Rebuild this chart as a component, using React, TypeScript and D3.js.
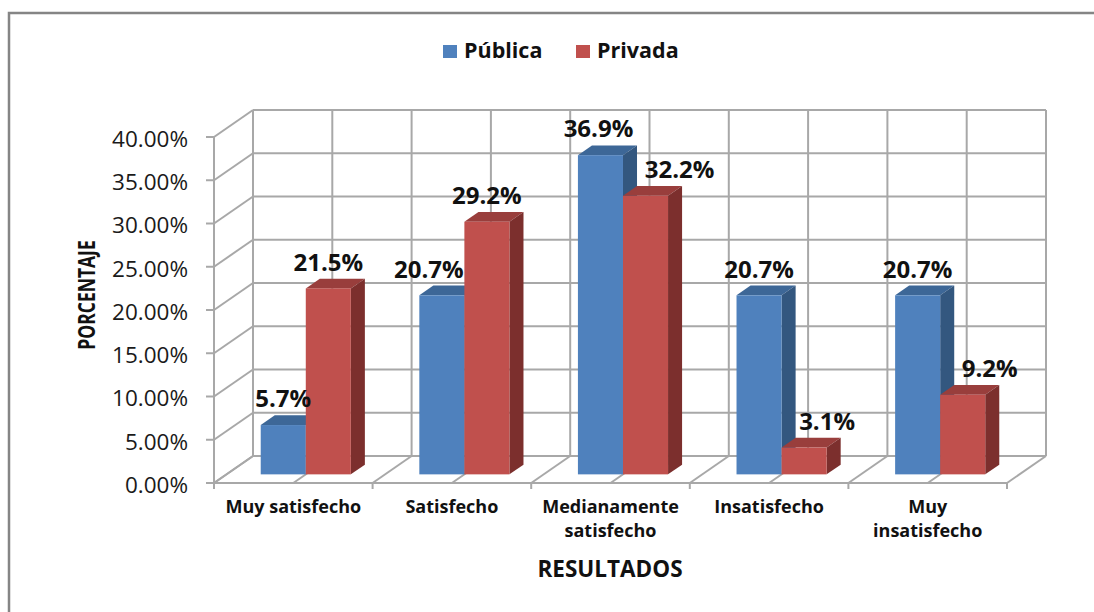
import React, { useRef, useEffect } from "react";
import * as d3 from "d3";

const categories = [
  "Muy satisfecho",
  "Satisfecho",
  "Medianamente\nsatisfecho",
  "Insatisfecho",
  "Muy\ninsatisfecho",
];
const seriesNames = ["Pública", "Privada"];
const publica = [5.7, 20.7, 36.9, 20.7, 20.7];
const privada = [21.5, 29.2, 32.2, 3.1, 9.2];
const yTicks = [0, 5, 10, 15, 20, 25, 30, 35, 40];

const WIDTH = 1094;
const HEIGHT = 612;
const FONT = "'Open Sans', 'Noto Sans', sans-serif";

// colores de cada serie: frente, tapa, lado
const faceColors = [
  { front: "#4f81bd", top: "#3d6797", side: "#33577f" },
  { front: "#c0504d", top: "#993e3c", side: "#7c2f2d" },
];

// pequeños desplazamientos de etiquetas movidas a mano en el original
const labelNudge: Record<string, number> = {
  "0-1": -13,
  "0-2": -2,
  "1-2": 34,
  "1-3": 23,
  "1-4": 27,
};

const App = () => {
  const svgRef = useRef<SVGSVGElement | null>(null);

  useEffect(() => {
    const svg = d3.select(svgRef.current);
    svg.selectAll("*").remove();

    const values = [publica, privada];
    const x0 = 214;
    const x1 = 1007;
    const depth = { dx: 39, dy: -27 };
    const barDepth0 = 0.32; // profundidad de la cara frontal de la barra
    const barDepth = 0.36; // grosor de la barra en profundidad

    const y = d3.scaleLinear().domain([0, 40]).range([483, 137]);
    const xCat = d3.scaleBand<string>().domain(categories).range([x0, x1]).padding(0);
    const xSer = d3
      .scaleBand<string>()
      .domain(seriesNames)
      .range([0, xCat.bandwidth()])
      .paddingInner(0)
      .paddingOuter(0.76);

    const grid = "#a8a8a8";

    // marco exterior
    svg
      .append("rect")
      .attr("x", 9)
      .attr("y", 13)
      .attr("width", WIDTH + 20)
      .attr("height", HEIGHT + 20)
      .attr("fill", "white")
      .attr("stroke", "#858585")
      .attr("stroke-width", 2.5);

    const walls = svg.append("g").attr("stroke", grid).attr("stroke-width", 2).attr("fill", "none");
    const line = (ax: number, ay: number, bx: number, by: number) =>
      walls.append("line").attr("x1", ax).attr("y1", ay).attr("x2", bx).attr("y2", by);

    // pared lateral y pared del fondo
    yTicks.forEach((t) => {
      line(x0, y(t), x0 + depth.dx, y(t) + depth.dy);
      line(x0 + depth.dx, y(t) + depth.dy, x1 + depth.dx, y(t) + depth.dy);
    });
    const half = d3.range(0, categories.length * 2 + 1).map((i) => x0 + (i * xCat.bandwidth()) / 2);
    half.forEach((xx) => {
      line(xx + depth.dx, y(40) + depth.dy, xx + depth.dx, y(0) + depth.dy);
      line(xx, y(0), xx + depth.dx, y(0) + depth.dy);
    });
    line(x0, y(0), x1, y(0));
    line(x0, y(40), x0, y(0));

    // marcas de los ejes
    yTicks.forEach((t) => line(x0 - 8, y(t), x0, y(t)));
    d3.range(0, categories.length + 1).forEach((i) => {
      const xx = x0 + i * xCat.bandwidth();
      line(xx, y(0), xx, y(0) + 6);
    });

    // etiquetas del eje Y
    svg
      .append("g")
      .selectAll("text")
      .data(yTicks)
      .enter()
      .append("text")
      .attr("x", 188)
      .attr("y", (d) => y(d) + 2)
      .attr("dy", "0.35em")
      .attr("text-anchor", "end")
      .style("font-family", FONT)
      .style("font-size", "22.5px")
      .style("fill", "#1a1a1a")
      .text((d) => d3.format(".2f")(d) + "%");

    // barras
    const bars = svg.append("g");
    const labels: { x: number; y: number; text: string }[] = [];
    categories.forEach((cat, i) => {
      seriesNames.forEach((s, j) => {
        const v = values[j][i];
        const w = xSer.bandwidth();
        const xl = (xCat(cat) ?? 0) + (xSer(s) ?? 0) + barDepth0 * depth.dx;
        const yb = y(0) + barDepth0 * depth.dy;
        const yt = y(v) + barDepth0 * depth.dy;
        const ddx = barDepth * depth.dx;
        const ddy = barDepth * depth.dy;
        const c = faceColors[j];
        bars
          .append("polygon")
          .attr("points", [[xl, yt], [xl + w, yt], [xl + w + ddx, yt + ddy], [xl + ddx, yt + ddy]].join(" "))
          .attr("fill", c.top);
        bars
          .append("polygon")
          .attr("points", [[xl + w, yt], [xl + w + ddx, yt + ddy], [xl + w + ddx, yb + ddy], [xl + w, yb]].join(" "))
          .attr("fill", c.side);
        bars
          .append("rect")
          .attr("x", xl)
          .attr("y", yt)
          .attr("width", w)
          .attr("height", yb - yt)
          .attr("fill", c.front);
        labels.push({
          x: xl + w / 2 + (labelNudge[`${j}-${i}`] ?? 0),
          y: yt + ddy - 8,
          text: v.toFixed(1) + "%",
        });
      });
    });

    // etiquetas de datos
    svg
      .append("g")
      .selectAll("text")
      .data(labels)
      .enter()
      .append("text")
      .attr("x", (d) => d.x)
      .attr("y", (d) => d.y)
      .attr("text-anchor", "middle")
      .style("font-family", FONT)
      .style("font-weight", "bold")
      .style("font-size", "24px")
      .style("fill", "#111")
      .text((d) => d.text);

    // etiquetas de categorías
    const catG = svg.append("g");
    categories.forEach((cat) => {
      const t = catG
        .append("text")
        .attr("x", (xCat(cat) ?? 0) + xCat.bandwidth() / 2)
        .attr("y", 513)
        .attr("text-anchor", "middle")
        .style("font-family", FONT)
        .style("font-weight", "bold")
        .style("font-size", "18px")
        .style("fill", "#111");
      cat.split("\n").forEach((part, k) => {
        t.append("tspan")
          .attr("x", (xCat(cat) ?? 0) + xCat.bandwidth() / 2)
          .attr("dy", k === 0 ? 0 : 24)
          .text(part);
      });
    });

    // títulos de ejes
    svg
      .append("text")
      .attr("x", 610)
      .attr("y", 577)
      .attr("text-anchor", "middle")
      .style("font-family", FONT)
      .style("font-weight", "bold")
      .style("font-size", "22.5px")
      .style("fill", "#111")
      .text("RESULTADOS");
    svg
      .append("text")
      .attr("transform", "translate(95,295) rotate(-90) scale(1,1.3)")
      .attr("text-anchor", "middle")
      .style("font-family", FONT)
      .style("font-weight", "bold")
      .style("font-size", "17.5px")
      .style("fill", "#111")
      .text("PORCENTAJE");

    // leyenda
    const legendX = [443, 576];
    const legend = svg.append("g");
    seriesNames.forEach((s, j) => {
      legend
        .append("rect")
        .attr("x", legendX[j])
        .attr("y", 45)
        .attr("width", 14)
        .attr("height", 13)
        .attr("fill", faceColors[j].front);
      legend
        .append("text")
        .attr("x", legendX[j] + 21)
        .attr("y", 58)
        .style("font-family", FONT)
        .style("font-weight", "bold")
        .style("font-size", "21.5px")
        .style("fill", "#111")
        .text(s);
    });
  }, []);

  return (
    <>
      <style>{`body{margin:0;}`}</style>
      <svg ref={svgRef} width={WIDTH} height={HEIGHT} style={{ display: "block", background: "white" }}></svg>
    </>
  );
};

export default App;
